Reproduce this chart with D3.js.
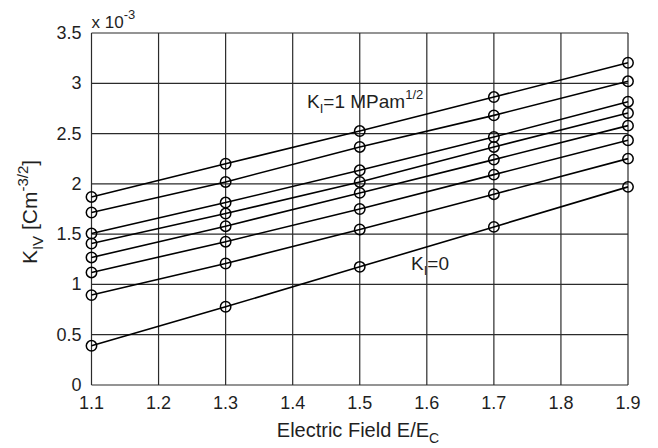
<!DOCTYPE html>
<meta charset="utf-8">
<head>
    <title></title>
    <script src="https://cdn.jsdelivr.net/npm/d3@7/dist/d3.min.js"></script>
</head>

<style>
    body{ margin:0; background:#fff; }
    text{
      font-family: Arial, "Liberation Sans", sans-serif;
      fill:#1f1f1f;
    }
</style>
<svg width="658" height="448"></svg>

<script>
    // electric field E/E_C where the points were computed
    var field = [1.1, 1.3, 1.5, 1.7, 1.9];

    // K_IV in units of 1e-3, one array per curve, top (K_I=1) to bottom (K_I=0)
    var kiv1 = [1.87, 2.20, 2.525, 2.863, 3.204];
    var kiv2 = [1.715, 2.019, 2.367, 2.681, 3.02];
    var kiv3 = [1.506, 1.814, 2.135, 2.466, 2.817];
    var kiv4 = [1.407, 1.705, 2.019, 2.367, 2.704];
    var kiv5 = [1.268, 1.579, 1.91, 2.241, 2.579];
    var kiv6 = [1.119, 1.425, 1.75, 2.092, 2.433];
    var kiv7 = [0.894, 1.208, 1.546, 1.897, 2.251];
    var kiv8 = [0.39, 0.778, 1.175, 1.572, 1.97];
    var curves = [kiv1, kiv2, kiv3, kiv4, kiv5, kiv6, kiv7, kiv8];

    var xTicks = [1.1, 1.2, 1.3, 1.4, 1.5, 1.6, 1.7, 1.8, 1.9];
    var yTicks = [0, 0.5, 1, 1.5, 2, 2.5, 3, 3.5];

    var pLeft = 91.5, pRight = 628, pTop = 33, pBottom = 385;

    var x = d3.scaleLinear().domain([1.1, 1.9]).range([pLeft, pRight]),
        y = d3.scaleLinear().domain([0, 3.5]).range([pBottom, pTop]);

    var svg = d3.select('svg');

    // grid
    var grid = svg.append('g').attr('stroke', '#2b2b2b').attr('stroke-width', 1.2);
    grid.selectAll('line.v').data(xTicks).enter().append('line')
        .attr('x1', function(d){ return x(d); }).attr('x2', function(d){ return x(d); })
        .attr('y1', pTop).attr('y2', pBottom);
    grid.selectAll('line.h').data(yTicks).enter().append('line')
        .attr('y1', function(d){ return y(d); }).attr('y2', function(d){ return y(d); })
        .attr('x1', pLeft).attr('x2', pRight);

    // tick labels
    svg.append('g').selectAll('text').data(xTicks).enter().append('text')
        .attr('x', function(d){ return x(d); })
        .attr('y', pBottom + 24)
        .attr('text-anchor', 'middle')
        .style('font-size', '18px')
        .text(function(d){ return d3.format('.1f')(d); });

    svg.append('g').selectAll('text').data(yTicks).enter().append('text')
        .attr('x', pLeft - 10)
        .attr('y', function(d){ return y(d) + 6; })
        .attr('text-anchor', 'end')
        .style('font-size', '18px')
        .text(function(d){ return d; });

    // exponent
    var ex = svg.append('text').attr('x', pLeft).attr('y', 28).style('font-size', '17px');
    ex.append('tspan').text('x 10');
    ex.append('tspan').attr('dy', -9).style('font-size', '13px').text('-3');

    // curves
    var line = d3.line()
        .x(function(d, i){ return x(field[i]); })
        .y(function(d){ return y(d); });

    svg.append('g').selectAll('path').data(curves).enter().append('path')
        .attr('d', line)
        .attr('fill', 'none')
        .attr('stroke', '#000')
        .attr('stroke-width', 1.6);

    var pts = [];
    curves.forEach(function(c){
        c.forEach(function(v, i){ pts.push([field[i], v]); });
    });
    svg.append('g').selectAll('circle').data(pts).enter().append('circle')
        .attr('cx', function(d){ return x(d[0]); })
        .attr('cy', function(d){ return y(d[1]); })
        .attr('r', 5.2)
        .attr('fill', 'none')
        .attr('stroke', '#000')
        .attr('stroke-width', 1.5);

    // annotations
    var a1 = svg.append('text').attr('x', 307).attr('y', 108).style('font-size', '19px');
    a1.append('tspan').text('K');
    a1.append('tspan').attr('dy', 5).style('font-size', '13px').text('I');
    a1.append('tspan').attr('dy', -5).text('=1 MPam');
    a1.append('tspan').attr('dy', -9).style('font-size', '13px').text('1/2');

    var a2 = svg.append('text').attr('x', 411).attr('y', 270).style('font-size', '19px');
    a2.append('tspan').text('K');
    a2.append('tspan').attr('dy', 5).style('font-size', '13px').text('I');
    a2.append('tspan').attr('dy', -5).text('=0');

    // axis titles
    var xt = svg.append('text').attr('x', 358).attr('y', 437)
        .attr('text-anchor', 'middle').style('font-size', '20px');
    xt.append('tspan').text('Electric Field E/E');
    xt.append('tspan').attr('dy', 6).style('font-size', '14px').text('C');

    var yt = svg.append('text')
        .attr('transform', 'translate(37,212) rotate(-90)')
        .attr('text-anchor', 'middle').style('font-size', '21px');
    yt.append('tspan').text('K');
    yt.append('tspan').attr('dy', 6).style('font-size', '15px').text('IV');
    yt.append('tspan').attr('dy', -6).text(' [Cm');
    yt.append('tspan').attr('dy', -9).style('font-size', '15px').text('-3/2');
    yt.append('tspan').attr('dy', 9).text(']');
</script>
